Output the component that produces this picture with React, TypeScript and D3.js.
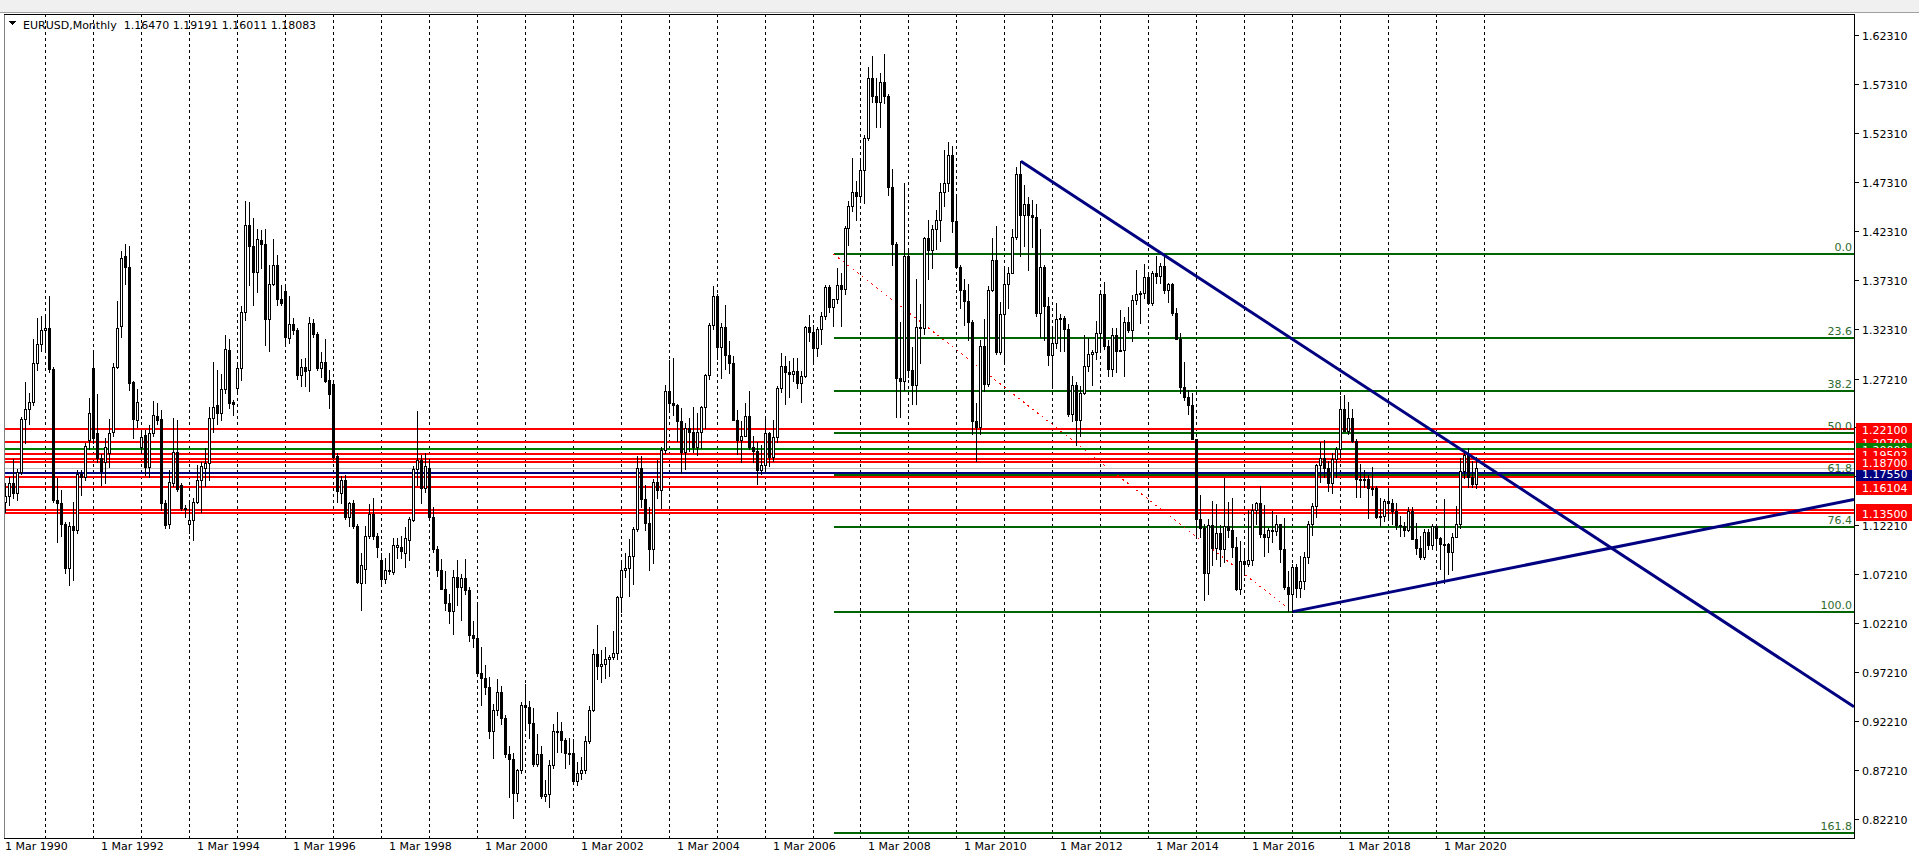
import React from "react";
import * as d3 from "d3";

// ---------- DATA (monthly EURUSD, first bar = Mar 1990) ----------
// month index is counted from Jan 1991 (0); Mar 1990 = -10
const FIRST_MONTH = -10;

const barOpen = [
  1.146,1.152,1.165,1.155,1.177,1.231,1.241,1.248,1.288,1.307,
  1.322,1.324,1.282,1.148,1.145,1.123,1.079,1.121,1.117,1.175,1.172,1.209,
  1.283,1.216,1.191,1.187,1.196,1.217,1.284,1.326,1.397,1.386,1.269,1.230,
  1.202,1.214,1.182,1.216,1.234,1.231,1.145,1.123,1.165,1.197,1.163,1.140,
  1.124,1.128,1.146,1.168,1.181,1.186,1.232,1.245,1.237,1.261,1.301,1.248,
  1.262,1.283,1.340,1.429,1.408,1.381,1.414,1.410,1.333,1.369,1.388,1.353,
  1.362,1.314,1.328,1.322,1.276,1.284,1.281,1.329,1.318,1.283,1.289,1.271,
  1.267,1.193,1.155,1.168,1.131,1.145,1.121,1.063,1.078,1.111,1.134,1.111,
  1.087,1.067,1.077,1.074,1.100,1.100,1.094,1.107,1.128,1.180,1.189,1.160,
  1.181,1.131,1.098,1.077,1.057,1.043,1.035,1.069,1.059,1.068,1.056,1.010,
  1.007,0.971,0.966,0.957,0.912,0.933,0.952,0.925,0.888,0.883,0.849,0.872,
  0.939,0.937,0.920,0.878,0.888,0.846,0.848,0.877,0.912,0.912,0.903,0.890,
  0.890,0.861,0.869,0.872,0.902,0.933,0.991,0.978,0.980,0.986,0.988,0.992,
  1.049,1.077,1.079,1.091,1.118,1.181,1.149,1.125,1.098,1.166,1.158,1.199,
  1.259,1.247,1.245,1.229,1.197,1.222,1.218,1.202,1.218,1.243,1.276,1.327,
  1.356,1.304,1.325,1.296,1.288,1.230,1.209,1.213,1.234,1.202,1.198,1.179,
  1.184,1.216,1.192,1.212,1.262,1.285,1.279,1.277,1.280,1.268,1.275,1.325,
  1.320,1.303,1.323,1.336,1.366,1.345,1.353,1.368,1.364,1.426,1.448,1.463,
  1.459,1.485,1.518,1.579,1.561,1.555,1.575,1.561,1.468,1.410,1.273,1.270,
  1.397,1.281,1.266,1.325,1.324,1.416,1.403,1.425,1.434,1.463,1.472,1.501,
  1.433,1.386,1.363,1.351,1.330,1.229,1.223,1.305,1.267,1.363,1.393,1.299,
  1.338,1.369,1.380,1.417,1.481,1.439,1.450,1.439,1.437,1.339,1.386,1.346,
  1.296,1.308,1.333,1.334,1.323,1.236,1.266,1.230,1.257,1.285,1.297,1.299,
  1.319,1.358,1.305,1.282,1.317,1.300,1.301,1.330,1.322,1.352,1.358,1.359,
  1.376,1.349,1.380,1.377,1.387,1.363,1.369,1.339,1.313,1.263,1.253,1.245,
  1.210,1.129,1.119,1.073,1.122,1.099,1.114,1.098,1.121,1.117,1.100,1.057,
  1.086,1.083,1.087,1.138,1.145,1.113,1.110,1.117,1.116,1.124,1.098,1.059,
  1.052,1.080,1.058,1.065,1.090,1.124,1.142,1.184,1.191,1.181,1.165,1.190,
  1.200,1.241,1.219,1.232,1.208,1.169,1.168,1.169,1.160,1.160,1.131,1.132,
  1.147,1.145,1.137,1.122,1.121,1.117,1.137,1.108,1.099,1.090,1.115,1.102,
  1.121,1.109,1.103,1.103,1.095,1.110,1.123,1.178,1.194,1.172,1.1647,
];

const barHigh = [
  1.165,1.172,1.190,1.180,1.233,1.269,1.257,1.312,1.334,1.336,
  1.338,1.356,1.284,1.170,1.158,1.126,1.126,1.146,1.179,1.179,1.206,1.252,
  1.301,1.256,1.195,1.211,1.231,1.288,1.351,1.402,1.410,1.408,1.270,1.261,
  1.220,1.220,1.225,1.249,1.247,1.240,1.148,1.179,1.232,1.230,1.165,1.143,
  1.146,1.150,1.184,1.187,1.201,1.243,1.289,1.281,1.277,1.317,1.312,1.250,
  1.286,1.346,1.453,1.452,1.436,1.425,1.424,1.425,1.388,1.415,1.398,1.368,
  1.368,1.356,1.334,1.324,1.292,1.293,1.335,1.333,1.320,1.299,1.313,1.281,
  1.268,1.196,1.173,1.174,1.146,1.148,1.124,1.094,1.121,1.144,1.150,1.114,
  1.094,1.089,1.094,1.109,1.109,1.111,1.120,1.131,1.183,1.239,1.194,1.196,
  1.190,1.141,1.101,1.088,1.075,1.052,1.077,1.087,1.072,1.088,1.059,1.024,
  1.041,0.998,0.979,0.967,0.940,0.965,0.958,0.928,0.897,0.890,0.873,0.942,
  0.960,0.943,0.936,0.909,0.897,0.862,0.882,0.919,0.931,0.921,0.905,0.905,
  0.904,0.880,0.885,0.907,0.938,0.996,1.020,0.995,0.998,0.990,1.014,1.050,
  1.086,1.094,1.108,1.120,1.193,1.193,1.163,1.141,1.169,1.189,1.202,1.265,
  1.291,1.293,1.246,1.242,1.227,1.232,1.243,1.237,1.244,1.277,1.329,1.367,
  1.358,1.329,1.347,1.310,1.295,1.240,1.229,1.247,1.259,1.213,1.207,1.204,
  1.233,1.218,1.230,1.264,1.298,1.295,1.290,1.293,1.293,1.280,1.326,1.337,
  1.327,1.325,1.340,1.368,1.368,1.353,1.385,1.380,1.428,1.453,1.497,1.474,
  1.497,1.521,1.590,1.602,1.579,1.584,1.604,1.563,1.486,1.412,1.330,1.472,
  1.405,1.304,1.374,1.348,1.417,1.434,1.429,1.444,1.472,1.506,1.514,1.510,
  1.458,1.388,1.374,1.369,1.332,1.247,1.311,1.333,1.367,1.416,1.428,1.350,
  1.387,1.386,1.425,1.488,1.494,1.470,1.458,1.455,1.450,1.425,1.388,1.355,
  1.323,1.349,1.338,1.336,1.328,1.275,1.269,1.264,1.317,1.314,1.301,1.331,
  1.359,1.371,1.311,1.324,1.324,1.342,1.335,1.345,1.357,1.383,1.362,1.389,
  1.378,1.382,1.397,1.390,1.399,1.370,1.370,1.344,1.319,1.289,1.260,1.257,
  1.210,1.153,1.124,1.129,1.147,1.144,1.122,1.171,1.146,1.150,1.110,1.106,
  1.099,1.138,1.144,1.146,1.162,1.143,1.119,1.137,1.133,1.124,1.130,1.075,
  1.083,1.083,1.091,1.095,1.127,1.145,1.185,1.207,1.209,1.188,1.196,1.202,
  1.254,1.2555,1.248,1.241,1.210,1.185,1.179,1.174,1.1815,1.162,1.150,1.149,
  1.157,1.149,1.145,1.132,1.126,1.141,1.141,1.125,1.111,1.118,1.118,1.124,
  1.124,1.110,1.1495,1.104,1.114,1.142,1.191,1.197,1.2011,1.188,1.1919,
];

const barLow = [
  1.136,1.143,1.150,1.148,1.175,1.206,1.226,1.245,1.281,1.300,
  1.302,1.279,1.146,1.105,1.111,1.073,1.061,1.066,1.114,1.153,1.168,1.200,
  1.206,1.187,1.163,1.165,1.182,1.213,1.283,1.315,1.369,1.260,1.211,1.223,
  1.196,1.174,1.172,1.213,1.226,1.138,1.119,1.119,1.162,1.157,1.138,1.131,
  1.114,1.107,1.145,1.136,1.162,1.168,1.218,1.226,1.230,1.257,1.242,1.235,
  1.257,1.271,1.332,1.368,1.347,1.361,1.385,1.306,1.300,1.368,1.347,1.347,
  1.305,1.308,1.318,1.272,1.264,1.264,1.259,1.315,1.281,1.274,1.269,1.242,
  1.191,1.146,1.145,1.129,1.121,1.119,1.063,1.036,1.063,1.109,1.108,1.090,
  1.060,1.063,1.072,1.072,1.089,1.089,1.080,1.087,1.127,1.163,1.145,1.156,
  1.129,1.095,1.070,1.058,1.036,1.022,1.011,1.041,1.025,1.052,1.004,0.998,
  0.970,0.939,0.950,0.905,0.884,0.928,0.919,0.885,0.845,0.823,0.841,0.869,
  0.916,0.905,0.876,0.876,0.844,0.840,0.834,0.874,0.891,0.891,0.874,0.878,
  0.858,0.857,0.863,0.869,0.900,0.932,0.965,0.962,0.966,0.968,0.986,0.986,
  1.034,1.069,1.050,1.062,1.116,1.141,1.117,1.076,1.084,1.150,1.140,1.196,
  1.239,1.235,1.208,1.176,1.180,1.198,1.197,1.194,1.201,1.222,1.272,1.323,
  1.292,1.273,1.282,1.278,1.230,1.195,1.187,1.213,1.200,1.187,1.164,1.175,
  1.180,1.183,1.188,1.207,1.258,1.246,1.253,1.270,1.262,1.248,1.274,1.310,
  1.287,1.295,1.307,1.333,1.340,1.326,1.349,1.326,1.358,1.409,1.443,1.434,
  1.452,1.451,1.516,1.555,1.529,1.529,1.554,1.460,1.388,1.233,1.233,1.260,
  1.274,1.246,1.246,1.288,1.318,1.374,1.385,1.404,1.413,1.448,1.464,1.422,
  1.386,1.344,1.327,1.311,1.215,1.1876,1.215,1.259,1.264,1.362,1.297,1.297,
  1.287,1.344,1.380,1.415,1.397,1.408,1.383,1.406,1.336,1.315,1.311,1.286,
  1.262,1.303,1.300,1.300,1.234,1.229,1.2042,1.213,1.256,1.280,1.266,1.292,
  1.300,1.302,1.275,1.275,1.279,1.300,1.275,1.320,1.310,1.348,1.329,1.354,
  1.348,1.347,1.370,1.370,1.360,1.350,1.337,1.315,1.257,1.250,1.236,1.210,
  1.110,1.110,1.0462,1.052,1.082,1.088,1.081,1.085,1.110,1.090,1.056,1.052,
  1.071,1.081,1.082,1.123,1.110,1.091,1.095,1.105,1.112,1.085,1.057,1.035,
  1.034,1.049,1.049,1.057,1.084,1.112,1.131,1.166,1.172,1.157,1.155,1.172,
  1.192,1.220,1.215,1.207,1.151,1.151,1.161,1.130,1.153,1.130,1.121,1.127,
  1.129,1.123,1.118,1.111,1.111,1.116,1.110,1.093,1.088,1.088,1.098,1.098,
  1.099,1.078,1.0636,1.072,1.076,1.117,1.119,1.170,1.161,1.161,1.1601,
];

const barClose = [
  1.152,1.165,1.155,1.177,1.231,1.241,1.248,1.288,1.307,1.322,
  1.324,1.282,1.148,1.145,1.123,1.079,1.121,1.117,1.175,1.172,1.203,1.237,
  1.211,1.191,1.178,1.202,1.216,1.284,1.324,1.395,1.386,1.268,1.231,1.248,
  1.212,1.182,1.216,1.235,1.230,1.145,1.122,1.166,1.197,1.159,1.140,1.139,
  1.128,1.146,1.168,1.183,1.186,1.232,1.243,1.237,1.261,1.302,1.247,1.246,
  1.283,1.340,1.429,1.408,1.381,1.415,1.410,1.333,1.369,1.388,1.353,1.349,
  1.315,1.328,1.322,1.276,1.284,1.280,1.329,1.318,1.283,1.289,1.270,1.256,
  1.192,1.157,1.168,1.131,1.145,1.121,1.064,1.082,1.111,1.134,1.111,1.100,
  1.067,1.076,1.075,1.102,1.102,1.096,1.109,1.129,1.180,1.189,1.160,1.183,
  1.131,1.098,1.077,1.057,1.043,1.035,1.069,1.059,1.068,1.056,1.010,1.007,
  0.971,0.966,0.957,0.912,0.933,0.952,0.925,0.888,0.883,0.849,0.872,0.939,
  0.937,0.920,0.878,0.888,0.846,0.848,0.877,0.912,0.912,0.903,0.890,0.890,
  0.861,0.869,0.872,0.902,0.933,0.991,0.978,0.980,0.986,0.988,0.992,1.049,
  1.077,1.079,1.091,1.118,1.181,1.149,1.125,1.098,1.166,1.158,1.199,1.259,
  1.247,1.245,1.229,1.197,1.222,1.218,1.202,1.218,1.243,1.276,1.327,1.356,
  1.304,1.325,1.296,1.288,1.230,1.209,1.213,1.234,1.202,1.198,1.179,1.184,
  1.216,1.192,1.212,1.262,1.285,1.279,1.277,1.280,1.268,1.275,1.325,1.320,
  1.303,1.323,1.336,1.366,1.345,1.353,1.368,1.364,1.426,1.448,1.463,1.459,
  1.485,1.518,1.579,1.561,1.555,1.575,1.561,1.468,1.410,1.273,1.270,1.397,
  1.281,1.266,1.325,1.324,1.416,1.403,1.425,1.434,1.463,1.472,1.501,1.433,
  1.386,1.363,1.351,1.330,1.229,1.223,1.305,1.267,1.363,1.393,1.299,1.338,
  1.369,1.380,1.417,1.481,1.439,1.450,1.439,1.437,1.339,1.386,1.346,1.296,
  1.308,1.333,1.334,1.323,1.236,1.266,1.230,1.257,1.285,1.297,1.299,1.319,
  1.358,1.305,1.282,1.317,1.300,1.301,1.330,1.322,1.352,1.358,1.359,1.376,
  1.349,1.380,1.377,1.387,1.363,1.369,1.339,1.313,1.263,1.253,1.245,1.210,
  1.129,1.119,1.073,1.122,1.099,1.114,1.098,1.121,1.117,1.100,1.057,1.086,
  1.083,1.087,1.138,1.145,1.113,1.110,1.117,1.116,1.124,1.098,1.059,1.052,
  1.080,1.058,1.065,1.090,1.124,1.142,1.184,1.191,1.181,1.165,1.190,1.200,
  1.241,1.219,1.232,1.208,1.169,1.168,1.169,1.160,1.160,1.131,1.132,1.147,
  1.145,1.137,1.122,1.121,1.117,1.137,1.108,1.099,1.090,1.115,1.102,1.121,
  1.109,1.103,1.103,1.095,1.110,1.123,1.178,1.194,1.172,1.1647,1.1808,
];

// price axis tick labels
const priceTicks = ["1.62310","1.57310","1.52310","1.47310","1.42310","1.37310","1.32310","1.27210",
  "1.22210","1.17210","1.12210","1.07210","1.02210","0.97210","0.92210","0.87210","0.82210"];

// time axis labels (1 Mar of even years)
const timeLabelYears = [1990,1992,1994,1996,1998,2000,2002,2004,2006,2008,2010,2012,2014,2016,2018,2020];
// vertical grid at January of each year
const gridYears = d3.range(1991, 2022);

// horizontal lines
const redLevels = [1.2210, 1.2070, 1.1950, 1.1900, 1.1870, 1.1720, 1.16104, 1.1380, 1.1350];
const greenLevel = 1.2000;
const navyLevel = 1.1755;
const bidLevel = 1.18083;

// axis price labels (draw order)
const axisLabels = [
  { p: 1.2070, t: "1.20700", c: "#ff0000" },
  { p: 1.2210, t: "1.22100", c: "#ff0000" },
  { p: 1.2000, t: "1.20000", c: "#008000" },
  { p: 1.1755, t: "1.17550", c: "#000080" },
  { p: 1.19502, t: "1.19502", c: "#ff0000" },
  { p: 1.1870, t: "1.18700", c: "#ff0000" },
  { p: 1.16104, t: "1.16104", c: "#ff0000" },
  { p: 1.1380, t: "1.13800", c: "#ff0000" },
  { p: 1.1350, t: "1.13500", c: "#ff0000" },
];

// Fibonacci retracement: anchor months (from Jan 1991) and prices
const fibAnchor1 = { m: 197, p: 1.3993 };
const fibAnchor2 = { m: 312, p: 1.0340 };
const fibLevels = [0, 23.6, 38.2, 50, 61.8, 76.4, 100, 161.8];

// trend lines (month index, price), extended to the right
const trendDown = [{ m: 244, p: 1.4940 }, { m: 356, p: 1.1945 }];
const trendUp = [{ m: 312, p: 1.0340 }, { m: 350, p: 1.0650 }];

const header = "EURUSD,Monthly  1.16470 1.19191 1.16011 1.18083";
const FONT = "'DejaVu Sans', Verdana, sans-serif";

export default function App() {
  const W = 1919, H = 862;
  const L = 4, T = 14, R = 1854, B = 838;
  const x = d3.scaleLinear().domain([0, 12]).range([45.5, 93.47]);
  const y = d3.scaleLinear().domain([1.6231, 0.8221]).range([35, 819]);
  const px = (m: number) => Math.floor(x(m)) + 0.5;
  const monthOf = (yr: number, mo: number) => (yr - 1991) * 12 + mo;

  const extend = (pts: { m: number; p: number }[]) => {
    const x1 = x(pts[0].m), y1 = y(pts[0].p), x2 = x(pts[1].m), y2 = y(pts[1].p);
    const s = (y2 - y1) / (x2 - x1);
    return { x1, y1, x2: R, y2: y1 + s * (R - x1) };
  };
  const tD = extend(trendDown);
  const tU = extend(trendUp);

  const fx1 = px(fibAnchor1.m);
  const fibPrice = (lv: number) => fibAnchor1.p - (fibAnchor1.p - fibAnchor2.p) * lv / 100;

  return (
    <svg width={W} height={H} style={{ position: "absolute", left: 0, top: 0, background: "#fff" }}
      fontFamily={FONT} shapeRendering="crispEdges">
      <defs>
        <clipPath id="plot"><rect x={L + 1} y={T + 1} width={R - L - 1} height={B - T - 1} /></clipPath>
      </defs>
      <rect x={0} y={0} width={W} height={H} fill="#fff" />
      {/* toolbar strip */}
      <rect x={0} y={0} width={W} height={12} fill="#f0f0f0" />
      <line x1={0} x2={W} y1={12.5} y2={12.5} stroke="#a0a0a0" />

      <g clipPath="url(#plot)">
        {/* vertical grid */}
        {gridYears.map((yr) => {
          const gx = px(monthOf(yr, 0));
          return <line key={yr} x1={gx} x2={gx} y1={T} y2={B} stroke="#000" strokeDasharray="3,3" />;
        })}

        {/* fib lines */}
        {fibLevels.map((lv) => {
          const fy = Math.round(y(fibPrice(lv)));
          return <line key={lv} x1={fx1} x2={R} y1={fy} y2={fy} stroke="#006400" strokeWidth={2} />;
        })}
        <line x1={fx1} y1={y(fibAnchor1.p)} x2={px(fibAnchor2.m)} y2={y(fibAnchor2.p)}
          stroke="#ff0000" strokeDasharray="2,4" />

        {/* horizontal lines */}
        <line x1={L} x2={R} y1={Math.round(y(bidLevel)) + 0.5} y2={Math.round(y(bidLevel)) + 0.5} stroke="#c0c0c0" />
        {redLevels.map((lv) => {
          const ly = Math.round(y(lv));
          return <line key={lv} x1={L} x2={R} y1={ly} y2={ly} stroke="#ff0000" strokeWidth={2} />;
        })}
        <line x1={L} x2={R} y1={Math.round(y(greenLevel))} y2={Math.round(y(greenLevel))} stroke="#008000" strokeWidth={2} />
        <line x1={L} x2={R} y1={Math.round(y(navyLevel))} y2={Math.round(y(navyLevel))} stroke="#000080" strokeWidth={2} />

        {/* candles */}
        {barClose.map((c, i) => {
          const m = FIRST_MONTH + i;
          const cx = px(m);
          const o = barOpen[i];
          const h = Math.max(barHigh[i], o, c);
          const l = Math.min(barLow[i], o, c);
          const yo = y(o), yc = y(c);
          const top = Math.round(Math.min(yo, yc));
          const bot = Math.round(Math.max(yo, yc));
          const bull = c >= o;
          return (
            <g key={i}>
              <line x1={cx} x2={cx} y1={Math.round(y(h))} y2={Math.round(y(l)) + 1} stroke="#000" />
              {bull ? (
                <rect x={cx - 1} y={top + 0.5} width={2} height={Math.max(bot - top, 1)} fill="#fff" stroke="#000" />
              ) : (
                <rect x={cx - 1.5} y={top} width={3} height={Math.max(bot - top, 1) + 1} fill="#000" />
              )}
            </g>
          );
        })}

        {/* trend lines */}
        <line x1={tD.x1} y1={tD.y1} x2={tD.x2} y2={tD.y2} stroke="#000080" strokeWidth={3} shapeRendering="auto" />
        <line x1={tU.x1} y1={tU.y1} x2={tU.x2} y2={tU.y2} stroke="#000080" strokeWidth={3} shapeRendering="auto" />

        {/* fib labels */}
        {fibLevels.map((lv) => (
          <text key={lv} x={R - 2} y={Math.round(y(fibPrice(lv))) - 3} textAnchor="end" fontSize={11} fill="#2e6b2e">
            {lv.toFixed(1)}
          </text>
        ))}
      </g>

      {/* header */}
      <path d="M8,21 L16,21 L12,25 Z" fill="#000" />
      <text x={23} y={28.5} fontSize={11} fill="#000" style={{ whiteSpace: "pre" }}>{header}</text>

      {/* frame */}
      <line x1={L + 0.5} x2={L + 0.5} y1={T} y2={B} stroke="#808080" />
      <line x1={L} x2={R} y1={T + 0.5} y2={T + 0.5} stroke="#000" />
      <line x1={R + 0.5} x2={R + 0.5} y1={T} y2={B + 1} stroke="#000" />
      <line x1={L} x2={R + 1} y1={B + 0.5} y2={B + 0.5} stroke="#000" />

      {/* price axis */}
      {priceTicks.map((t) => {
        const ty = Math.round(y(+t)) + 0.5;
        return (
          <g key={t}>
            <line x1={R + 1} x2={R + 5} y1={ty} y2={ty} stroke="#000" />
            <text x={1862} y={ty + 4} fontSize={11} fill="#000">{t}</text>
          </g>
        );
      })}
      {axisLabels.map((a) => {
        const cy = Math.round(y(a.p)) + 1;
        return (
          <g key={a.t}>
            <rect x={1856} y={cy - 7} width={56} height={14} fill={a.c} />
            <text x={1862} y={cy + 4} fontSize={11} fill="#fff">{a.t}</text>
          </g>
        );
      })}

      {/* time axis */}
      {timeLabelYears.map((yr) => {
        const tx = px(monthOf(yr, 2));
        return (
          <text key={yr} x={Math.max(tx - 0.5, 5)} y={850} fontSize={11} fill="#000">{`1 Mar ${yr}`}</text>
        );
      })}
    </svg>
  );
}
